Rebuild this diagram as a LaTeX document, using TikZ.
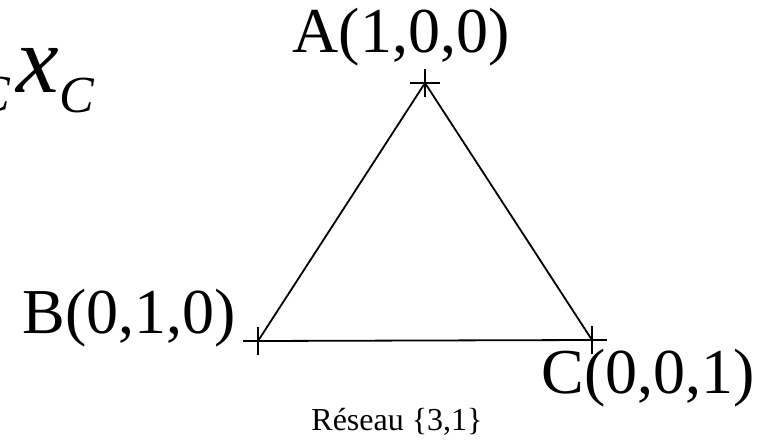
\documentclass[tikz,border=0pt]{standalone}
\usepackage{fontspec}
\setmainfont{Liberation Serif}
\usetikzlibrary{positioning}

\begin{document}
\begin{tikzpicture}[
  x=0.5pt, y=-0.5pt,
  vlabel/.style={inner sep=0pt, font=\fontsize{32}{36}\selectfont},
  sublabel/.style={inner sep=0pt, font=\fontsize{26}{30}\selectfont\itshape},
  edge/.style={line width=0.9pt},
  tick/.style={line width=0.9pt}
]
  \useasboundingbox (0,0) rectangle (760,443);
  \clip (0,0) rectangle (760,443);

  % Vertices
  \coordinate (a) at (425,83);
  \coordinate (b) at (258,341);
  \coordinate (c) at (592,340);

  % Formula (cut at the left edge)
  \node[inner sep=0pt, anchor=base west, font=\fontsize{48}{54}\selectfont\itshape] (fx) at (16,93) {x};
  \node[sublabel, anchor=base west] (fsub) at (59,113) {C};
  \node[sublabel, anchor=base east] (fpre) at (11,112) {C};

  % Triangle
  \draw[edge] (a) -- (b) -- (c) -- cycle;
  \foreach \v in {a,b,c} {
    \draw[tick] ([xshift=-7.5pt]\v) -- ([xshift=7.5pt]\v);
    \draw[tick] ([yshift=7pt]\v) -- ([yshift=-7pt]\v);
  }

  % Labels
  \node[vlabel, anchor=base] (la) at (401,53) {A(1,0,0)};
  \node[vlabel, anchor=base west] (lb) at (22,333) {B(0,1,0)};
  \node[vlabel, anchor=base west] (lc) at (541,393) {C(0,0,1)};
  \node[inner sep=0pt, anchor=base, font=\fontsize{16}{19}\selectfont] (title) at (397,430) {Réseau \{3,1\}};
\end{tikzpicture}
\end{document}
